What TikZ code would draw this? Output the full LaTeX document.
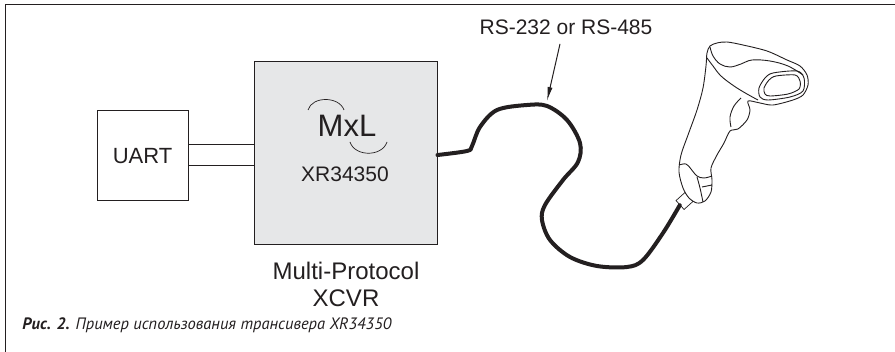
\documentclass[tikz,border=0pt]{standalone}
\usepackage{fontspec}
\setmainfont{Liberation Sans}
\newfontfamily\capfont{PT Sans}
\usetikzlibrary{positioning,arrows.meta}
\definecolor{chipfill}{RGB}{230,231,232}
\definecolor{ink}{RGB}{35,31,32}

\begin{document}
\begin{tikzpicture}[x=1pt,y=-1pt,>=Latex,line width=1pt,color=ink]
\tikzstyle{block}=[rectangle,draw,inner sep=0pt,align=center]
\tikzstyle{label}=[inner sep=0pt,align=center]
\tikzstyle{cable}=[line width=4pt,line cap=round,line join=round]
\tikzstyle{body}=[line width=0.9pt,line join=round]
\useasboundingbox (0,0) rectangle (895,352);

% page frame
\draw (5,352) -- (5,5) -- (895,5);

% blocks
\node[block,minimum width=91pt,minimum height=90pt,font=\fontsize{22}{22}\selectfont] (uart) at (142.5,156) {UART};
\node[block,fill=chipfill,minimum width=183pt,minimum height=183pt,right=65pt of uart,yshift=2.5pt] (xcvr) {};
\node[label,font=\fontsize{31}{31}\selectfont] (logo) at (347,126) {MxL};
\node[label,font=\fontsize{21}{21}\selectfont] (part) at (345,174.5) {XR34350};
\node[label,font=\fontsize{24}{27}\selectfont] (name) at (346,284) {Multi-Protocol\\XCVR};

% logo swooshes
\draw[line width=0.7pt] (308,110) .. controls (312,96) and (339,96) .. (344,110);
\draw[line width=0.7pt] (350,142) .. controls (355,157) and (382,157) .. (387,142);

% uart link
\draw ([yshift=11pt]uart.east) -- ([yshift=11pt]uart.east -| xcvr.west);
\draw ([yshift=-10pt]uart.east) -- ([yshift=-10pt]uart.east -| xcvr.west);
\draw[line width=1.8pt] ([yshift=11pt]uart.east) -- ([yshift=-10pt]uart.east);

% bus label
\node[label,font=\fontsize{21}{21}\selectfont] (bus) at (566,27) {RS-232 or RS-485};
\coordinate (tap) at (547,101);
\draw[-{Latex[length=14pt,width=5pt]}] ([xshift=-6pt,yshift=-9pt]bus.south) -- (tap);

% plug and cable
\coordinate (out) at ([yshift=-1.5pt]xcvr.east);
\node[draw,fill=white,rotate=42,minimum width=12pt,minimum height=12pt,inner sep=0pt,line width=0.7pt] (plug) at (684.5,201) {};
\draw[cable] plot[smooth,tension=0.55] coordinates {(out) (467,151) (472,146) (480,127) (497,110) (527,105) (547,106) (567,120) (580,143) (578,162) (563,180) (545,205) (542,220) (550,240) (570,257) (597,266) (627,267) (643,260) (663,233) (plug.west)};

% scanner
\draw[body,fill=white] plot[smooth cycle,tension=0.5] coordinates {
  (707,53) (710,46) (717,43) (727,42) (743,45) (767,51) (787,60) (800,66)
  (807,75) (808,85) (803,95) (793,100) (773,105) (760,103) (748,101)
  (750,110) (747,120) (738,129) (730,131) (724,143) (717,155) (711,168)
  (712,180) (711,192) (705,201) (697,203) (689,198) (683,188) (679,172)
  (681,155) (688,135) (697,110) (703,88) (706,66)};
% head ridge and side
\draw[body] plot[smooth,tension=0.6] coordinates {(710,47) (713,56) (720,64) (730,67) (741,64) (752,60) (770,61) (788,66) (803,75)};
\draw[body] plot[smooth,tension=0.6] coordinates {(707,58) (713,66) (721,76) (734,86) (747,94) (758,100)};
% window
\draw[body] plot[smooth cycle,tension=0.5] coordinates {(759,88) (765,78) (773,73) (797,71) (804,78) (803,91) (790,97) (768,100) (760,97)};
\draw[body] plot[smooth cycle,tension=0.5] coordinates {(764,88) (769,80) (776,76) (795,75) (800,81) (799,89) (788,94) (770,96) (765,94)};
% trigger
\draw[body] plot[smooth,tension=0.6] coordinates {(741,98) (734,106) (730,117) (731,127)};
% butt cap
\draw[body] plot[smooth,tension=0.6] coordinates {(679,165) (686,164) (691,169) (697,176) (704,178) (712,176)};
\draw[body] plot[smooth,tension=0.6] coordinates {(697,177) (700,188) (703,202)};
\draw[body] (702,187) -- (712,185);

% caption
\node[anchor=base west,inner sep=0pt,font=\capfont\fontsize{16.5}{16.5}\selectfont\itshape] (caption) at (22,330) {\textbf{Рис. 2.} Пример использования трансивера XR34350};
\end{tikzpicture}
\end{document}
